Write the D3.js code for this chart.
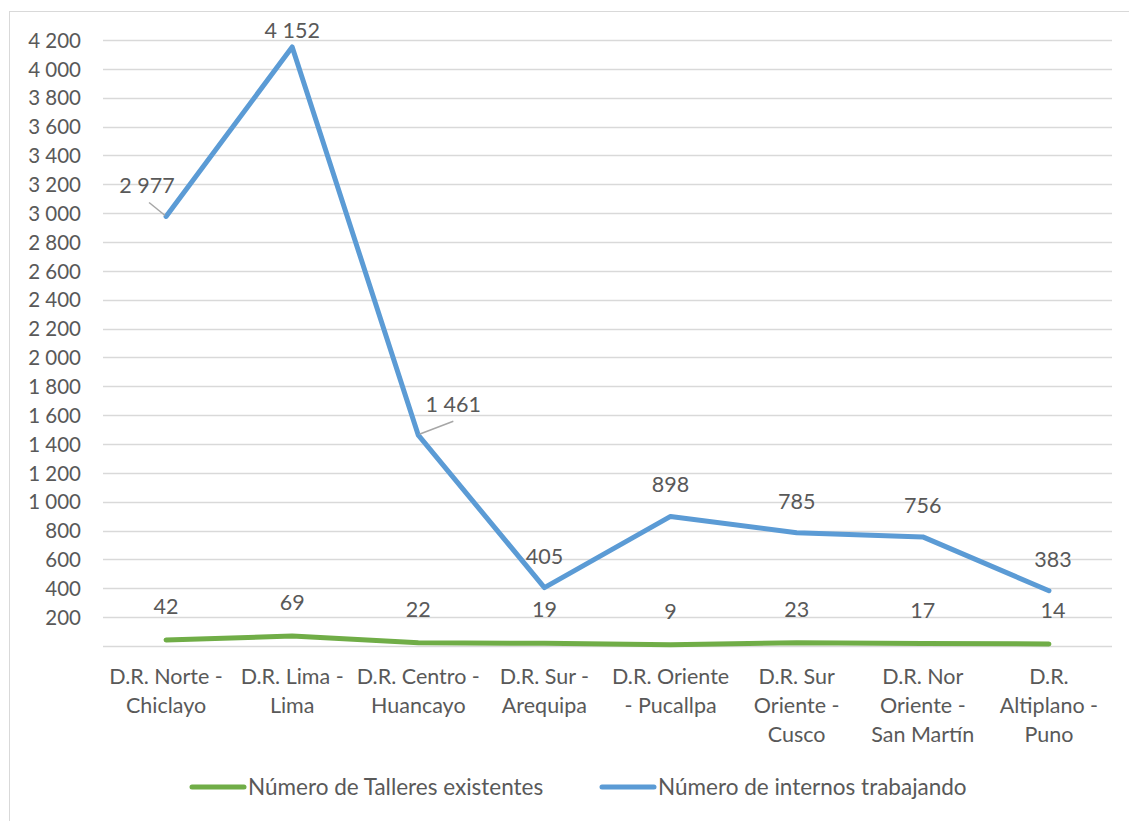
<!DOCTYPE html>
<html>
<head>
<meta charset="utf-8">
<script src="https://cdn.jsdelivr.net/npm/d3@7"></script>
<style>
  body { margin: 0; background: #fff; }
  svg text { font-family: Lato, "Open Sans", sans-serif; fill: #595959; }
</style>
</head>
<body>
<svg id="chart" width="1129" height="821"></svg>
<script>
// data
const categories = [
  ["D.R. Norte -", "Chiclayo"],
  ["D.R. Lima -", "Lima"],
  ["D.R. Centro -", "Huancayo"],
  ["D.R. Sur -", "Arequipa"],
  ["D.R. Oriente", "- Pucallpa"],
  ["D.R. Sur", "Oriente -", "Cusco"],
  ["D.R. Nor", "Oriente -", "San Martín"],
  ["D.R.", "Altiplano -", "Puno"]
];
const talleres = [42, 69, 22, 19, 9, 23, 17, 14];
const internos = [2977, 4152, 1461, 405, 898, 785, 756, 383];
const yTicks = d3.range(200, 4201, 200);
const gridTicks = d3.range(0, 4201, 200);
const seriesNames = ["Número de Talleres existentes", "Número de internos trabajando"];
const seriesColors = ["#70AD47", "#5B9BD5"];

const fmt = d3.formatLocale({decimal: ",", thousands: " ", grouping: [3], currency: ["", ""]}).format(",d");

const svg = d3.select("#chart");
const margin = {left: 103, right: 17, top: 40, bottom: 175};
const width = 1129, height = 821;

// outer chart border
svg.append("rect")
  .attr("x", 9.5).attr("y", 11.5)
  .attr("width", 1125).attr("height", 830)
  .attr("fill", "none").attr("stroke", "#D9D9D9").attr("stroke-width", 1);

const x = d3.scaleBand()
  .domain(d3.range(categories.length))
  .range([margin.left, width - margin.right]);

const y = d3.scaleLinear()
  .domain([0, 4200])
  .range([height - margin.bottom, margin.top]);

// gridlines
svg.append("g")
  .selectAll("line")
  .data(gridTicks)
  .enter().append("line")
  .attr("x1", margin.left).attr("x2", width - margin.right)
  .attr("y1", d => Math.round(y(d)) + 0.5)
  .attr("y2", d => Math.round(y(d)) + 0.5)
  .attr("stroke", "#D9D9D9")
  .attr("stroke-width", 1.3);

// y axis labels
const yAxis = svg.append("g")
  .attr("transform", `translate(${margin.left - 22},0)`)
  .call(d3.axisLeft(y).tickValues(yTicks).tickFormat(fmt).tickSize(0).tickPadding(0));
yAxis.select(".domain").remove();
yAxis.selectAll("text")
  .attr("font-size", 20.5)
  .attr("dy", "0.35em")
  .style("fill", "#595959");

// x axis labels
const xLabels = svg.append("g")
  .selectAll("text")
  .data(categories)
  .enter().append("text")
  .attr("text-anchor", "middle")
  .attr("font-size", 21.5)
  .attr("x", (d, i) => x(i) + x.bandwidth() / 2)
  .attr("y", 684);
xLabels.selectAll("tspan")
  .data(d => d)
  .enter().append("tspan")
  .attr("x", function () { return d3.select(this.parentNode).attr("x"); })
  .attr("dy", (d, i) => i === 0 ? 0 : 29)
  .text(d => d);

const cx = i => x(i) + x.bandwidth() / 2;
const line = d3.line()
  .x((d, i) => cx(i))
  .y(d => y(d));

[talleres, internos].forEach((series, s) => {
  svg.append("path")
    .datum(series)
    .attr("fill", "none")
    .attr("stroke", seriesColors[s])
    .attr("stroke-width", 5)
    .attr("stroke-linejoin", "round")
    .attr("stroke-linecap", "round")
    .attr("d", line);
});

// data labels
const labelG = svg.append("g").attr("font-size", 21.5);

talleres.forEach((v, i) => {
  labelG.append("text")
    .attr("text-anchor", "middle")
    .attr("x", cx(i) + (i === 7 ? 4 : 0))
    .attr("y", y(v) - 26)
    .text(fmt(v));
});

internos.forEach((v, i) => {
  let lx = cx(i), ly = y(v) - 24;
  if (i === 1) ly = y(v) - 9;
  if (i === 7) lx += 4;
  if (i === 0) {
    lx = cx(i) - 19; ly = y(v) - 23;
    svg.append("line")
      .attr("x1", cx(i) - 17).attr("y1", y(v) - 14)
      .attr("x2", cx(i) - 1).attr("y2", y(v) - 1)
      .attr("stroke", "#A6A6A6").attr("stroke-width", 1.5);
  }
  if (i === 2) {
    lx = cx(i) + 35; ly = y(v) - 23;
    svg.append("line")
      .attr("x1", cx(i) + 35).attr("y1", y(v) - 14)
      .attr("x2", cx(i) + 1).attr("y2", y(v) - 1)
      .attr("stroke", "#A6A6A6").attr("stroke-width", 1.5);
  }
  labelG.append("text")
    .attr("text-anchor", "middle")
    .attr("x", lx)
    .attr("y", ly)
    .text(fmt(v));
});

// legend
const legendX = [190, 600];
const legend = svg.append("g");
seriesNames.forEach((name, s) => {
  const g = legend.append("g").attr("transform", `translate(${legendX[s]},787)`);
  g.append("line")
    .attr("x1", 2).attr("x2", 54)
    .attr("stroke", seriesColors[s])
    .attr("stroke-width", 5)
    .attr("stroke-linecap", "round");
  g.append("text")
    .attr("x", 58)
    .attr("dy", "0.35em")
    .attr("font-size", 22.5)
    .text(name);
});
</script>
</body>
</html>
